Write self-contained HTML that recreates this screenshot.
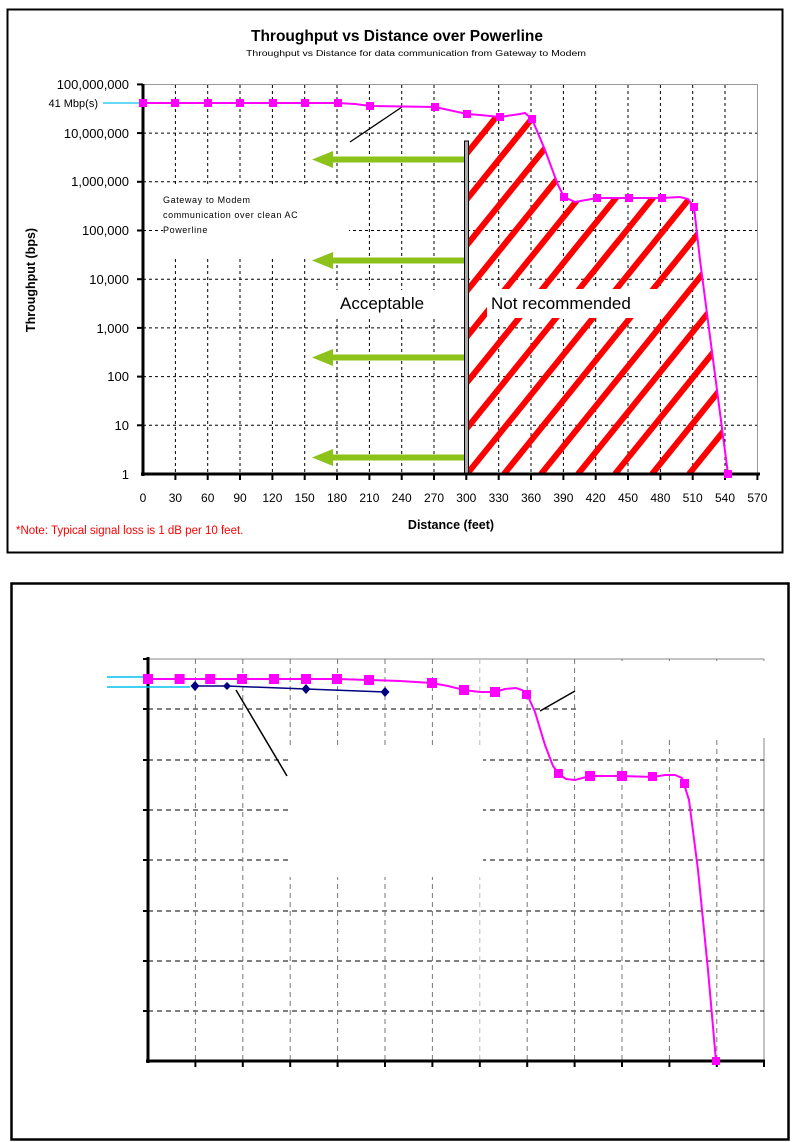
<!DOCTYPE html>
<html><head><meta charset="utf-8"><style>
html,body{margin:0;padding:0;background:#fff;}
svg{display:block;font-family:"Liberation Sans",Arial,sans-serif;}
</style></head><body>
<svg width="794" height="1142" viewBox="0 0 794 1142" xmlns="http://www.w3.org/2000/svg">
<defs>
<clipPath id="hc"><polygon points="469,474 469,115 480,115 500,117 520,114 525,113 532,119 545,150 558,185 564,197 575,202 597,198 629,198 662,198 680,197 688,199 694,207 700,260 728,474"/></clipPath>
</defs>
<rect x="7.5" y="9.5" width="775" height="543" fill="#fff" stroke="#000" stroke-width="2"/>
<text x="397" y="41" font-size="15.5" font-weight="bold" text-anchor="middle">Throughput vs Distance over Powerline</text>
<text x="416" y="56" font-size="8" text-anchor="middle" textLength="340" lengthAdjust="spacingAndGlyphs">Throughput vs Distance for data communication from Gateway to Modem</text>
<rect x="143" y="84.5" width="614.5" height="389.5" fill="none" stroke="#999" stroke-width="1"/>
<g stroke="#000" stroke-width="1" stroke-dasharray="3,3">
<line x1="143" y1="133.1" x2="757" y2="133.1"/><line x1="143" y1="181.8" x2="757" y2="181.8"/>
<line x1="143" y1="230.5" x2="757" y2="230.5"/><line x1="143" y1="279.2" x2="757" y2="279.2"/>
<line x1="143" y1="327.9" x2="757" y2="327.9"/><line x1="143" y1="376.6" x2="757" y2="376.6"/>
<line x1="143" y1="425.3" x2="757" y2="425.3"/>
<line x1="175.4" y1="85" x2="175.4" y2="474"/><line x1="207.7" y1="85" x2="207.7" y2="474"/>
<line x1="240" y1="85" x2="240" y2="474"/><line x1="272.4" y1="85" x2="272.4" y2="474"/>
<line x1="304.7" y1="85" x2="304.7" y2="474"/><line x1="337" y1="85" x2="337" y2="474"/>
<line x1="369.4" y1="85" x2="369.4" y2="474"/><line x1="401.7" y1="85" x2="401.7" y2="474"/>
<line x1="434" y1="85" x2="434" y2="474"/><line x1="498.7" y1="85" x2="498.7" y2="474"/>
<line x1="531" y1="85" x2="531" y2="474"/><line x1="563.4" y1="85" x2="563.4" y2="474"/>
<line x1="595.7" y1="85" x2="595.7" y2="474"/><line x1="628" y1="85" x2="628" y2="474"/>
<line x1="660.4" y1="85" x2="660.4" y2="474"/><line x1="692.7" y1="85" x2="692.7" y2="474"/>
<line x1="725" y1="85" x2="725" y2="474"/>
</g>
<rect x="163" y="184" width="186" height="75" fill="#fff"/>
<rect x="336" y="290" width="100" height="26" fill="#fff"/>
<g clip-path="url(#hc)" stroke="#ff0000" stroke-width="6">
<line x1="97" y1="474" x2="420" y2="74"/><line x1="134" y1="474" x2="457" y2="74"/>
<line x1="171" y1="474" x2="494" y2="74"/><line x1="208" y1="474" x2="531" y2="74"/>
<line x1="245" y1="474" x2="568" y2="74"/><line x1="282" y1="474" x2="605" y2="74"/>
<line x1="319" y1="474" x2="642" y2="74"/><line x1="356" y1="474" x2="679" y2="74"/>
<line x1="393" y1="474" x2="716" y2="74"/><line x1="430" y1="474" x2="753" y2="74"/>
<line x1="467" y1="474" x2="790" y2="74"/><line x1="504" y1="474" x2="827" y2="74"/>
<line x1="541" y1="474" x2="864" y2="74"/><line x1="578" y1="474" x2="901" y2="74"/>
<line x1="615" y1="474" x2="938" y2="74"/><line x1="652" y1="474" x2="975" y2="74"/>
<line x1="689" y1="474" x2="1012" y2="74"/><line x1="726" y1="474" x2="1049" y2="74"/>
</g>
<rect x="487" y="289" width="174" height="29" fill="#fff"/>
<text x="491" y="309" font-size="17">Not recommended</text>
<text x="340" y="309" font-size="17">Acceptable</text>
<rect x="464.5" y="141" width="4" height="333" fill="#aaa" stroke="#000" stroke-width="1"/>
<g fill="#8cc21a">
<rect x="330" y="156.5" width="134" height="6"/><polygon points="312,159.5 333,151 333,168"/>
<rect x="330" y="257.5" width="134" height="6"/><polygon points="312,260.5 333,252 333,269"/>
<rect x="330" y="354.5" width="134" height="6"/><polygon points="312,357.5 333,349 333,366"/>
<rect x="330" y="454.5" width="134" height="6"/><polygon points="312,457.5 333,449 333,466"/>
</g>
<text font-size="9" letter-spacing="0.6"><tspan x="163" y="203">Gateway to Modem</tspan><tspan x="163" y="218">communication over clean AC</tspan><tspan x="163" y="233">Powerline</tspan></text>
<line x1="350" y1="142" x2="402" y2="107" stroke="#000" stroke-width="1.3"/>
<line x1="143" y1="84" x2="143" y2="476" stroke="#000" stroke-width="3"/>
<line x1="141" y1="474" x2="760" y2="474" stroke="#000" stroke-width="3"/>
<g stroke="#000" stroke-width="2">
<line x1="137" y1="84.4" x2="143" y2="84.4"/><line x1="137" y1="133.1" x2="143" y2="133.1"/><line x1="137" y1="181.8" x2="143" y2="181.8"/><line x1="137" y1="230.5" x2="143" y2="230.5"/><line x1="137" y1="279.2" x2="143" y2="279.2"/><line x1="137" y1="327.9" x2="143" y2="327.9"/><line x1="137" y1="376.6" x2="143" y2="376.6"/><line x1="137" y1="425.3" x2="143" y2="425.3"/>
<line x1="175.4" y1="474" x2="175.4" y2="480"/><line x1="207.7" y1="474" x2="207.7" y2="480"/><line x1="240" y1="474" x2="240" y2="480"/><line x1="272.4" y1="474" x2="272.4" y2="480"/><line x1="304.7" y1="474" x2="304.7" y2="480"/><line x1="337" y1="474" x2="337" y2="480"/><line x1="369.4" y1="474" x2="369.4" y2="480"/><line x1="401.7" y1="474" x2="401.7" y2="480"/><line x1="434" y1="474" x2="434" y2="480"/><line x1="466.3" y1="474" x2="466.3" y2="480"/><line x1="498.7" y1="474" x2="498.7" y2="480"/><line x1="531" y1="474" x2="531" y2="480"/><line x1="563.4" y1="474" x2="563.4" y2="480"/><line x1="595.7" y1="474" x2="595.7" y2="480"/><line x1="628" y1="474" x2="628" y2="480"/><line x1="660.4" y1="474" x2="660.4" y2="480"/><line x1="692.7" y1="474" x2="692.7" y2="480"/><line x1="725" y1="474" x2="725" y2="480"/><line x1="757.4" y1="474" x2="757.4" y2="480"/>
</g>
<g font-size="13" text-anchor="end">
<text x="129" y="89">100,000,000</text><text x="129" y="138">10,000,000</text><text x="129" y="186">1,000,000</text><text x="129" y="235">100,000</text><text x="129" y="284">10,000</text><text x="129" y="333">1,000</text><text x="129" y="381">100</text><text x="129" y="430">10</text><text x="129" y="479">1</text>
</g>
<text x="98" y="107" font-size="11" text-anchor="end">41 Mbp(s)</text>
<line x1="103" y1="103" x2="143" y2="103" stroke="#33ccff" stroke-width="1.5"/>
<g font-size="12" text-anchor="middle">
<text x="143" y="502">0</text><text x="175.4" y="502">30</text><text x="207.7" y="502">60</text><text x="240" y="502">90</text><text x="272.4" y="502">120</text><text x="304.7" y="502">150</text><text x="337" y="502">180</text><text x="369.4" y="502">210</text><text x="401.7" y="502">240</text><text x="434" y="502">270</text><text x="466.3" y="502">300</text><text x="498.7" y="502">330</text><text x="531" y="502">360</text><text x="563.4" y="502">390</text><text x="595.7" y="502">420</text><text x="628" y="502">450</text><text x="660.4" y="502">480</text><text x="692.7" y="502">510</text><text x="725" y="502">540</text><text x="757.4" y="502">570</text>
</g>
<text x="451" y="529" font-size="12.5" font-weight="bold" text-anchor="middle">Distance (feet)</text>
<text transform="translate(35,280) rotate(-90)" font-size="12.5" font-weight="bold" text-anchor="middle">Throughput (bps)</text>
<text x="16" y="534" font-size="11.5" fill="#ff0000">*Note: Typical signal loss is 1 dB per 10 feet.</text>
<polyline fill="none" stroke="#ff00ff" stroke-width="2" points="143,103 175,103 208,103 240,103 273,103 305,103 338,103 355,104 370,106 435,107 467,114 480,115 500,117 520,114 525,113 532,119 545,150 558,185 564,197 575,202 597,198 629,198 662,198 680,197 688,199 694,207 700,260 728,474"/>
<g fill="#ff00ff">
<rect x="139" y="99" width="8" height="8"/><rect x="171" y="99" width="8" height="8"/><rect x="204" y="99" width="8" height="8"/><rect x="236" y="99" width="8" height="8"/><rect x="269" y="99" width="8" height="8"/><rect x="301" y="99" width="8" height="8"/><rect x="334" y="99" width="8" height="8"/><rect x="366" y="102" width="8" height="8"/><rect x="431" y="103" width="8" height="8"/><rect x="463" y="110" width="8" height="8"/><rect x="496" y="113" width="8" height="8"/><rect x="528" y="115" width="8" height="8"/><rect x="560" y="193" width="8" height="8"/><rect x="593" y="194" width="8" height="8"/><rect x="625" y="194" width="8" height="8"/><rect x="658" y="194" width="8" height="8"/><rect x="690" y="203" width="8" height="8"/><rect x="724" y="470" width="8" height="8"/>
</g>

<rect x="11.5" y="583.5" width="777" height="556" fill="#fff" stroke="#000" stroke-width="2.5"/>
<line x1="148" y1="659" x2="764" y2="659" stroke="#888" stroke-width="1"/>
<line x1="764" y1="659" x2="764" y2="1061" stroke="#888" stroke-width="1"/>
<g stroke="#000" stroke-width="1" stroke-dasharray="5,4">
<line x1="148" y1="709" x2="764" y2="709"/><line x1="148" y1="760" x2="764" y2="760"/><line x1="148" y1="810" x2="764" y2="810"/><line x1="148" y1="860" x2="764" y2="860"/><line x1="148" y1="911" x2="764" y2="911"/><line x1="148" y1="961" x2="764" y2="961"/><line x1="148" y1="1011" x2="764" y2="1011"/>
</g>
<g stroke="#777" stroke-width="1" stroke-dasharray="5,4">
<line x1="195.4" y1="659" x2="195.4" y2="1061"/><line x1="242.8" y1="659" x2="242.8" y2="1061"/><line x1="290.2" y1="659" x2="290.2" y2="1061"/><line x1="337.6" y1="659" x2="337.6" y2="1061"/><line x1="385" y1="659" x2="385" y2="1061"/><line x1="432.4" y1="659" x2="432.4" y2="1061"/><line x1="479.8" y1="659" x2="479.8" y2="1061" stroke="#bbb"/><line x1="527.2" y1="659" x2="527.2" y2="1061"/><line x1="574.6" y1="659" x2="574.6" y2="1061"/><line x1="622" y1="659" x2="622" y2="1061"/><line x1="669.4" y1="659" x2="669.4" y2="1061"/><line x1="716.8" y1="659" x2="716.8" y2="1061"/>
</g>
<rect x="288" y="747" width="195" height="130" fill="#fff"/>
<rect x="578" y="661" width="187" height="77" fill="#fff"/>
<rect x="576" y="712" width="4" height="26" fill="#fff"/>
<line x1="148" y1="657" x2="148" y2="1063" stroke="#000" stroke-width="3"/>
<line x1="146" y1="1061" x2="765" y2="1061" stroke="#000" stroke-width="3"/>
<g stroke="#000" stroke-width="2">
<line x1="143" y1="659" x2="148" y2="659"/><line x1="143" y1="709" x2="148" y2="709"/><line x1="143" y1="760" x2="148" y2="760"/><line x1="143" y1="810" x2="148" y2="810"/><line x1="143" y1="860" x2="148" y2="860"/><line x1="143" y1="911" x2="148" y2="911"/><line x1="143" y1="961" x2="148" y2="961"/><line x1="143" y1="1011" x2="148" y2="1011"/>
<line x1="195.4" y1="1061" x2="195.4" y2="1067"/><line x1="242.8" y1="1061" x2="242.8" y2="1067"/><line x1="290.2" y1="1061" x2="290.2" y2="1067"/><line x1="337.6" y1="1061" x2="337.6" y2="1067"/><line x1="385" y1="1061" x2="385" y2="1067"/><line x1="432.4" y1="1061" x2="432.4" y2="1067"/><line x1="479.8" y1="1061" x2="479.8" y2="1067"/><line x1="527.2" y1="1061" x2="527.2" y2="1067"/><line x1="574.6" y1="1061" x2="574.6" y2="1067"/><line x1="622" y1="1061" x2="622" y2="1067"/><line x1="669.4" y1="1061" x2="669.4" y2="1067"/><line x1="716.8" y1="1061" x2="716.8" y2="1067"/><line x1="764" y1="1061" x2="764" y2="1067"/>
</g>
<line x1="107" y1="677" x2="148" y2="677" stroke="#00c0f0" stroke-width="1.5"/>
<line x1="107" y1="687" x2="190" y2="687" stroke="#00c0f0" stroke-width="1.5"/>
<line x1="236" y1="690" x2="287" y2="776" stroke="#000" stroke-width="1.5"/>
<line x1="540" y1="711" x2="575" y2="691" stroke="#000" stroke-width="1.5"/>
<polyline fill="none" stroke="#000080" stroke-width="1.5" points="195,686 227,686 306,689 385,692"/>
<g fill="#000080">
<polygon points="195,681 199.5,686 195,691 190.5,686"/><polygon points="227,682 231,686 227,690 223,686"/><polygon points="306,684 310.5,689 306,694 301.5,689"/><polygon points="385,687 389.5,692 385,697 380.5,692"/>
</g>
<polyline fill="none" stroke="#ff00ff" stroke-width="2" points="148,679 337,679 369,680 400,681 432,683 448,686 464,690 480,692 495,692 505,689 516,688 522,690 527,694 535,712 545,745 553,766 559,774 566,779 575,780 590,776 622,776 653,777 665,775 675,775 682,778 684,784 689,800 698,870 708,970 716,1061"/>
<g fill="#ff00ff">
<rect x="143" y="674" width="10" height="10"/><rect x="174.6" y="674" width="10" height="10"/><rect x="205.2" y="674" width="10" height="10"/><rect x="237" y="674" width="10" height="10"/><rect x="269" y="674" width="10" height="10"/><rect x="301" y="674" width="10" height="10"/><rect x="332" y="674" width="10" height="10"/><rect x="364" y="675" width="10" height="10"/><rect x="427" y="678" width="10" height="10"/><rect x="459" y="685" width="10" height="10"/><rect x="490" y="687" width="10" height="10"/><rect x="522" y="690" width="9" height="9"/><rect x="554" y="769" width="9" height="9"/><rect x="585" y="771" width="10" height="10"/><rect x="617" y="771" width="10" height="10"/><rect x="648" y="772" width="9" height="9"/><rect x="680" y="779" width="9" height="9"/><rect x="712" y="1057" width="8" height="8"/>
</g>
</svg>
</body></html>
